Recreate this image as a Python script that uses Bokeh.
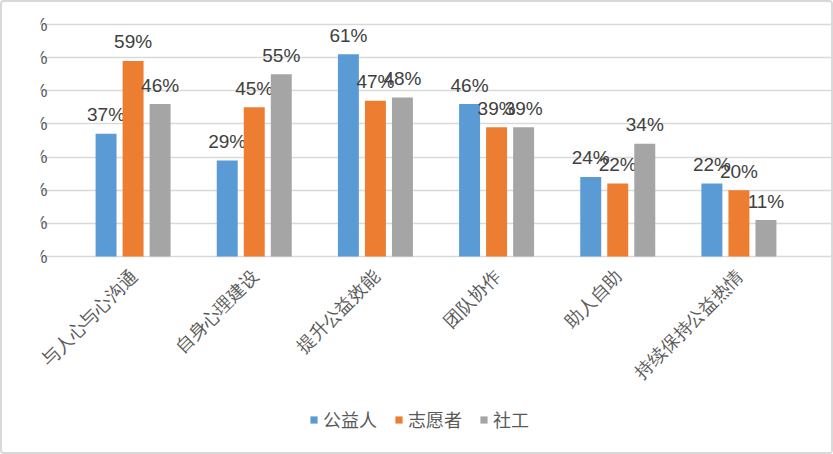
import math
from bokeh.plotting import figure
from bokeh.models import (ColumnDataSource, FactorRange, NumeralTickFormatter, Legend,
                          LegendItem, FixedTicker, Range1d, LabelSet)
from bokeh.transform import dodge
from bokeh.core.properties import value
from bokeh.embed import file_html
from bokeh.resources import INLINE

categories = ["与人心与心沟通", "自身心理建设", "提升公益效能", "团队协作", "助人自助", "持续保持公益热情"]
series_names = ["公益人", "志愿者", "社工"]
gongyiren = [0.37, 0.29, 0.61, 0.46, 0.24, 0.22]
zhiyuanzhe = [0.59, 0.45, 0.47, 0.39, 0.22, 0.20]
shegong = [0.46, 0.55, 0.48, 0.39, 0.34, 0.11]
y_ticks = [0.0, 0.1, 0.2, 0.3, 0.4, 0.5, 0.6, 0.7]
colors = ["#5B9BD5", "#ED7D31", "#A5A5A5"]

series = [gongyiren, zhiyuanzhe, shegong]
data = {"cat": categories}
for i, s in enumerate(series):
    data[f"s{i}"] = s
    data[f"l{i}"] = [f"{round(v * 100)}%" for v in s]
source = ColumnDataSource(data)

# frame extends around the plot area so rotated category labels, tick labels and legend fit inside
per_px = 0.7 / 232
y_top = 0.7 + 14 * per_px
y_min = 0.7 - 428 * per_px
pad = 32 / (727 / 6)  # padding on each side, in category units

p = figure(frame_width=791, frame_height=442, output_backend="svg", toolbar_location=None,
           x_range=FactorRange(factors=categories, range_padding=pad,
                               range_padding_units="absolute"),
           y_range=Range1d(y_min, y_top),
           min_border_left=38, min_border_right=0, min_border_top=8, min_border_bottom=0,
           styles={"border": "2px solid #D9D9D9", "border-radius": "4px"})

offsets = [-0.223, 0.0, 0.223]
renderers = []
for i in range(3):
    r = p.vbar(x=dodge("cat", offsets[i], range=p.x_range), top=f"s{i}", width=0.173,
               source=source, fill_color=colors[i], line_color=None)
    renderers.append(r)
    p.text(x=dodge("cat", offsets[i], range=p.x_range), y=f"s{i}", text=f"l{i}", source=source,
           text_align="center", text_baseline="alphabetic", y_offset=-19,
           text_font=value("Liberation Sans"), text_font_size="19px", text_color="#404040")

# category labels, rotated 45 degrees under the baseline
cat_labels = LabelSet(x="cat", y=0, text="cat", source=source, angle=math.pi / 4,
                      text_align="right", text_baseline="middle", x_offset=1, y_offset=-17,
                      text_font="Noto Sans CJK SC", text_font_size="18px", text_color="#595959")
p.add_layout(cat_labels)

p.outline_line_color = None
p.xgrid.grid_line_color = None
p.ygrid.grid_line_color = "#D9D9D9"
p.ygrid.grid_line_width = 1.5
p.ygrid.bounds = (0, len(categories))
p.xaxis.visible = False
p.yaxis.ticker = FixedTicker(ticks=y_ticks)
p.yaxis.formatter = NumeralTickFormatter(format="0%")
p.yaxis.fixed_location = -18 / (727 / 6)
p.yaxis.axis_line_color = None
p.yaxis.major_tick_line_color = None
p.yaxis.minor_tick_line_color = None
p.yaxis.major_label_text_font = "Liberation Sans"
p.yaxis.major_label_text_font_size = "18px"
p.yaxis.major_label_text_color = "#595959"
p.yaxis.major_label_standoff = 1

legend = Legend(items=[LegendItem(label=series_names[i], renderers=[renderers[i]]) for i in range(3)],
                orientation="horizontal", location=(269, 20),
                glyph_width=9, glyph_height=9, label_standoff=5, spacing=17,
                label_text_font="Noto Sans CJK SC", label_text_font_size="18px",
                label_text_color="#595959", border_line_color=None, background_fill_alpha=0,
                padding=0, margin=0)
p.add_layout(legend, "center")

open("out.html", "w").write(file_html(p, INLINE))
